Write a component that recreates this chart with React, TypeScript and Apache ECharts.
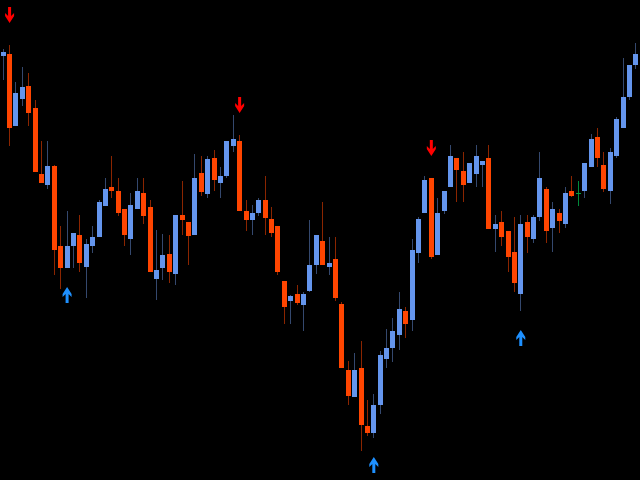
import React, { useEffect, useRef } from "react";
import * as echarts from "echarts";

// Price points (arbitrary units, higher = up)
const opens = [
  425, 426, 355, 382, 394, 372, 306, 296, 314, 234,
  213, 235, 245, 214, 235, 244, 275, 293, 289, 271,
  242, 272, 287, 273, 202, 213, 226, 207, 265, 258,
  246, 307, 287, 322, 298, 305, 335, 339, 269, 261,
  268, 280, 261, 254, 199, 180, 186, 176, 190, 216,
  239, 214, 221, 176, 110, 84, 112, 54, 48, 76,
  122, 133, 146, 169, 161, 228, 268, 302, 226, 270,
  294, 322, 309, 298, 307, 316, 322, 252, 258, 249,
  228, 187, 258, 242, 264, 291, 253, 267, 257, 289,
  287, 290, 314, 343, 315, 290, 325, 353, 384, 416,
];
const closes = [
  428, 353, 387, 393, 368, 309, 298, 314, 231, 213,
  234, 247, 218, 236, 243, 278, 291, 290, 268, 246,
  275, 289, 265, 209, 210, 225, 209, 265, 261, 245,
  302, 289, 321, 301, 304, 339, 341, 270, 261, 267,
  280, 263, 248, 209, 174, 184, 178, 186, 215, 245,
  216, 217, 183, 113, 85, 110, 56, 48, 75, 125,
  132, 149, 171, 157, 230, 261, 300, 224, 267, 289,
  324, 311, 296, 317, 324, 319, 252, 256, 244, 224,
  198, 256, 244, 263, 302, 250, 271, 260, 287, 285,
  287, 317, 341, 323, 292, 328, 361, 383, 415, 426,
];
const highs = [
  431, 435, 398, 413, 407, 380, 339, 339, 315, 254,
  269, 247, 265, 241, 254, 280, 302, 324, 302, 271,
  287, 302, 302, 280, 250, 246, 245, 265, 299, 258,
  326, 324, 324, 330, 313, 339, 365, 345, 280, 275,
  282, 304, 273, 254, 199, 185, 195, 188, 260, 245,
  278, 243, 243, 178, 119, 127, 139, 80, 86, 129,
  151, 162, 188, 173, 241, 263, 304, 302, 282, 289,
  335, 322, 328, 317, 335, 319, 335, 265, 269, 249,
  263, 265, 265, 265, 328, 293, 278, 271, 293, 304,
  299, 317, 346, 352, 328, 332, 363, 422, 415, 437,
];
const lows = [
  401, 335, 355, 375, 355, 309, 298, 292, 206, 192,
  213, 213, 209, 183, 228, 244, 275, 283, 265, 235,
  226, 272, 257, 209, 181, 201, 198, 196, 246, 216,
  246, 285, 283, 290, 283, 303, 329, 270, 250, 246,
  265, 246, 244, 206, 157, 157, 176, 150, 189, 207,
  216, 206, 180, 113, 76, 84, 30, 45, 43, 67,
  113, 119, 131, 143, 150, 218, 268, 222, 226, 267,
  294, 279, 279, 298, 294, 294, 252, 229, 235, 209,
  189, 170, 228, 238, 260, 238, 229, 248, 253, 284,
  275, 283, 314, 314, 289, 277, 323, 353, 381, 412,
];

// Signal arrows (candle indices, 0-based)
const sellSignals = [1, 37, 67];
const buySignals = [10, 58, 81];

const BULL = "#6495ED";
const BULL_WICK = "#34486e";
const BEAR = "#FF4500";
const BEAR_WICK = "#8B2500";
const DOJI = "#00a040";
const DOJI_WICK = "#008a3a";

const DOWN_ARROW = "path://M3 0 L6 0 L6 9 L9 6 L9 9 L4.5 16 L0 9 L0 6 L3 9 Z";
const UP_ARROW = "path://M3 16 L6 16 L6 7 L9 10 L9 7 L4.5 0 L0 7 L0 10 L3 7 Z";

export default function App() {
  const ref = useRef<HTMLDivElement>(null);

  useEffect(() => {
    if (!ref.current) return;
    const chart = echarts.init(ref.current, null, { renderer: "svg" });
    const categories = opens.map((_, i) => String(i + 1));
    const data = opens.map((o, i) => [i, o, closes[i], lows[i], highs[i]]);

    chart.setOption({
      animation: false,
      backgroundColor: "#000000",
      grid: { left: 0, right: 1, top: 0, bottom: 0 },
      xAxis: {
        type: "category",
        data: categories,
        show: false,
        boundaryGap: true,
      },
      yAxis: {
        type: "value",
        min: 0,
        max: 480,
        show: false,
      },
      series: [
        {
          type: "custom",
          data,
          encode: { x: 0, y: [1, 2, 3, 4] },
          renderItem: (params: any, api: any) => {
            const i = api.value(0);
            const o = api.value(1);
            const c = api.value(2);
            const l = api.value(3);
            const h = api.value(4);
            const cx = api.coord([i, o])[0];
            const left = Math.round(cx - 2.5);
            const yTop = Math.round(api.coord([i, Math.max(o, c)])[1]);
            const yBot = Math.round(api.coord([i, Math.min(o, c)])[1]);
            const yH = Math.round(api.coord([i, h])[1]);
            const yL = Math.round(api.coord([i, l])[1]);
            let body = BULL;
            let wick = BULL_WICK;
            if (c < o) {
              body = BEAR;
              wick = BEAR_WICK;
            } else if (c === o) {
              body = DOJI;
              wick = DOJI_WICK;
            }
            return {
              type: "group",
              children: [
                {
                  type: "rect",
                  shape: { x: left + 2, y: yH, width: 1, height: Math.max(1, yL - yH + 1) },
                  style: { fill: wick },
                },
                {
                  type: "rect",
                  shape: { x: left, y: yTop, width: 5, height: Math.max(1, yBot - yTop + 1) },
                  style: { fill: body },
                },
              ],
            };
          },
        },
        {
          type: "scatter",
          data: sellSignals.map((i) => [i, highs[i]]),
          symbol: DOWN_ARROW,
          symbolSize: [9, 16],
          symbolOffset: [0, -30],
          itemStyle: { color: "#FF0000", opacity: 1 },
          silent: true,
        },
        {
          type: "scatter",
          data: buySignals.map((i) => [i, lows[i]]),
          symbol: UP_ARROW,
          symbolSize: [9, 16],
          symbolOffset: [0, 28],
          itemStyle: { color: "#1E90FF", opacity: 1 },
          silent: true,
        },
      ],
    });
    return () => chart.dispose();
  }, []);

  return (
    <div
      ref={ref}
      style={{
        position: "fixed",
        left: 0,
        top: 0,
        width: 640,
        height: 480,
        background: "#000000",
      }}
    />
  );
}
